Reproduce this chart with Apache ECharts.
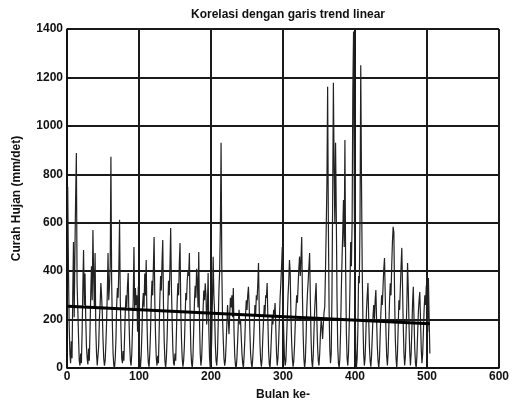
<!DOCTYPE html>
<html>
<head>
<meta charset="utf-8">
<script src="https://cdn.jsdelivr.net/npm/echarts@6/dist/echarts.min.js"></script>
<style>html,body{margin:0;padding:0;background:#fff}#c{width:512px;height:406px}</style>
</head>
<body>
<div id="c"></div>
<script>
const titleText = 'Korelasi dengan garis trend linear';
const xName = 'Bulan ke-';
const yName = 'Curah Hujan (mm/det)';
const xTicks = [0, 100, 200, 300, 400, 500, 600];
const yTicks = [0, 200, 400, 600, 800, 1000, 1200, 1400];
// monthly rainfall, one row per year (12 months)
const rain = [
 748,420,180,60,20,110,40,300,520,210,480,706,
 888,350,240,130,30,10,60,20,150,330,487,260,
 390,210,90,40,15,80,30,160,310,420,280,570,
 380,250,475,160,60,10,5,90,200,260,351,300,
 230,120,40,10,30,100,190,310,475,280,340,420,
 872,360,180,60,10,0,40,120,260,330,290,410,
 612,280,150,40,20,70,30,130,240,300,250,340,
 392,210,100,30,10,60,170,290,500,240,330,260,
 300,150,335,120,30,0,50,140,260,310,250,390,
 300,446,210,80,20,5,60,150,280,360,300,420,
 541,270,130,40,10,50,20,150,290,380,320,440,
 529,260,110,30,0,40,120,240,360,300,420,578,
 340,200,80,20,10,60,30,150,270,350,300,430,
 516,250,120,40,5,30,90,200,310,280,360,400,
 380,475,220,80,20,0,50,160,270,340,290,410,
 360,250,479,200,60,10,40,130,240,320,280,350,
 300,180,250,392,160,40,0,20,120,280,459,300,
 230,100,30,10,60,180,320,400,578,930,420,210,
 120,40,10,30,100,180,260,200,140,220,290,250,
 300,210,330,150,50,10,0,40,110,190,240,180,
 200,130,60,20,0,50,120,220,280,240,300,335,
 260,150,60,20,0,40,100,180,260,220,300,280,
 350,434,240,100,30,5,40,130,200,260,220,300,
 290,351,200,70,15,0,60,140,210,180,240,220,
 268,170,60,10,40,110,200,290,350,420,500,260,
 150,50,10,30,120,210,300,360,446,392,220,110,
 40,5,30,90,180,240,300,270,340,410,460,380,
 450,541,300,140,40,0,30,120,240,310,360,420,
 475,280,120,30,0,50,150,240,300,351,200,90,
 30,10,60,140,200,170,120,180,230,252,400,570,
 760,1161,600,250,80,20,60,300,700,1178,820,600,
 930,640,300,90,20,0,40,150,320,450,560,694,
 500,942,420,150,40,10,60,180,330,520,420,600,
 1150,1390,700,300,80,0,40,160,380,350,620,1250,
 780,417,200,60,10,40,130,240,300,351,210,90,
 30,5,50,130,210,260,200,280,322,200,90,30,
 0,40,140,230,300,260,340,410,454,300,150,50,
 10,60,170,280,350,300,420,520,583,560,300,120,
 40,0,60,170,280,240,330,420,496,340,180,60,
 10,50,150,260,434,330,180,70,10,60,160,270,
 335,200,80,20,0,50,140,230,280,314,200,80,
 20,60,150,240,300,260,340,280,150,372,200,60
];
const trendX = [1, 504];
const trendY = [255, 183];

const rainData = rain.map((v, i) => [i + 1, v]);
const trendData = trendX.map((x, i) => [x, trendY[i]]);

const chart = echarts.init(document.getElementById('c'));
const labelFont = {color: '#111', fontFamily: 'Liberation Sans, Arial', fontWeight: 'bold', fontSize: 12};
chart.setOption({
  animation: false,
  backgroundColor: '#fff',
  title: {text: titleText, left: 283, top: 4, textAlign: 'center',
    textStyle: {fontFamily: 'Liberation Sans, Arial', fontWeight: 'bold', fontSize: 12, color: '#111'}},
  grid: {left: 67, right: 13, top: 29, bottom: 38},
  xAxis: {type: 'value', min: xTicks[0], max: xTicks[xTicks.length - 1], interval: 100,
    name: xName, nameLocation: 'middle', nameGap: 21,
    nameTextStyle: labelFont,
    axisLine: {lineStyle: {color: '#111', width: 1.5}},
    axisTick: {inside: true, length: 4, lineStyle: {color: '#111'}},
    axisLabel: Object.assign({margin: 3, formatter: v => String(v)}, labelFont),
    splitLine: {show: true, lineStyle: {color: '#1a1a1a', width: 2}}},
  yAxis: {type: 'value', min: yTicks[0], max: yTicks[yTicks.length - 1], interval: 200,
    name: yName, nameLocation: 'middle', nameGap: 44,
    nameTextStyle: labelFont,
    axisLine: {lineStyle: {color: '#111', width: 1.5}},
    axisTick: {inside: true, length: 4, lineStyle: {color: '#111'}},
    axisLabel: Object.assign({margin: 4, formatter: v => String(v)}, labelFont),
    splitLine: {show: true, lineStyle: {color: '#1a1a1a', width: 2}}},
  series: [
    {type: 'line', data: rainData, symbol: 'none', lineStyle: {color: '#222', width: 1.2}},
    {type: 'line', data: trendData, symbol: 'none', lineStyle: {color: '#000', width: 3}}
  ]
});
</script>
</body>
</html>
